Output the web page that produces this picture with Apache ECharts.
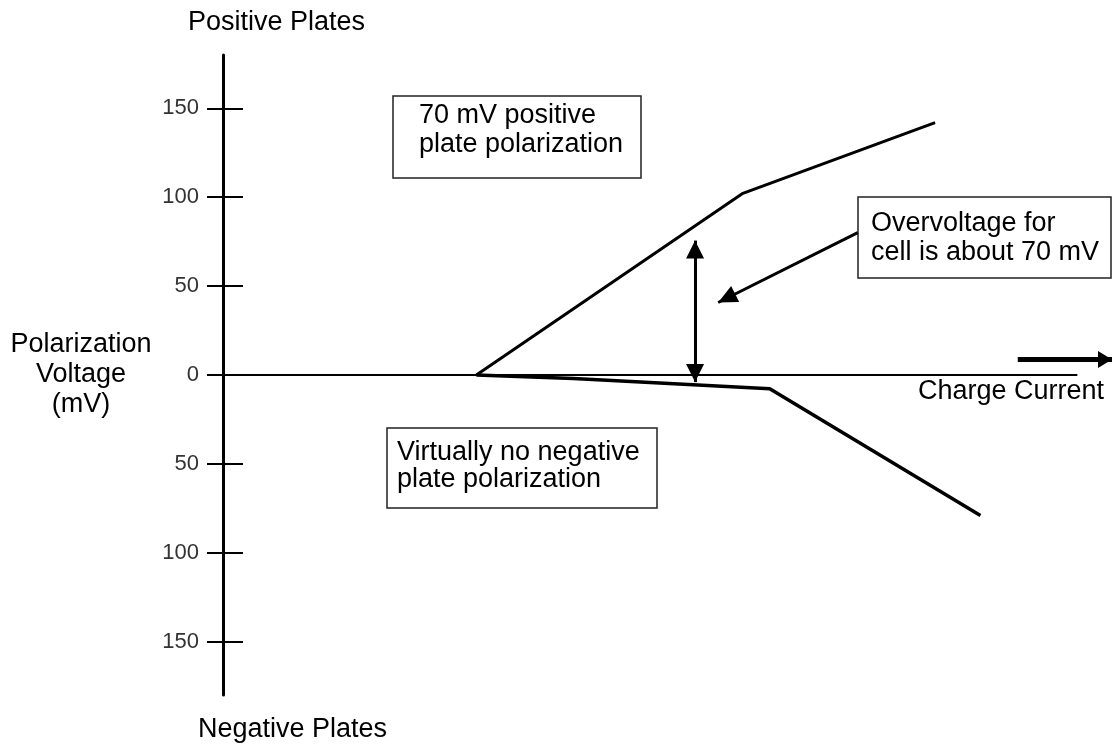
<!DOCTYPE html>
<html>
<head>
<meta charset="utf-8">
<script src="https://cdn.jsdelivr.net/npm/echarts@6/dist/echarts.min.js"></script>
<style>
html,body{margin:0;padding:0;background:#fff;}
#chart{width:1112px;height:746px;}
</style>
</head>
<body>
<div id="chart"></div>
<script>
// ---- data (charge current in arbitrary units 0..100, polarization in mV) ----
const positivePlate = [[28.5, 0], [58.4, 102], [80.1, 142]];
const negativePlate = [[28.5, 0], [39.4, -2], [61.5, -7.8], [85.2, -79]];
const chargeAxis = [[0, 0], [96.1, 0]];
const overvoltageArrow = [[53.1, 75.6], [53.1, -4]];
const pointerArrow = [[71.4, 80.1], [55.7, 40.8]];
const chargeArrow = [[89.4, 8.7], [100, 8.7]];
const yTicks = [-150, -100, -50, 0, 50, 100, 150];
const texts = {
  top: 'Positive Plates',
  bottom: 'Negative Plates',
  yName: 'Polarization\nVoltage\n(mV)',
  xName: 'Charge Current',
  box1: '70 mV positive\nplate polarization',
  box2: 'Virtually no negative\nplate polarization',
  box3: 'Overvoltage for\ncell is about 70 mV'
};

const FONT = '"Liberation Sans", Arial, Helvetica, sans-serif';
const chart = echarts.init(document.getElementById('chart'), null, {renderer: 'canvas'});

function arrowEnd(coord, size) {
  return {coord: coord, symbol: 'triangle', symbolSize: size, symbolOffset: [0, size[1] / 2]};
}
function plainEnd(coord) {
  return {coord: coord, symbol: 'none'};
}

const option = {
  backgroundColor: '#ffffff',
  animation: false,
  grid: {left: 223, right: 0, top: 55, bottom: 51, containLabel: false},
  xAxis: {
    type: 'value', min: 0, max: 100,
    axisLine: {show: false}, axisTick: {show: false}, axisLabel: {show: false}, splitLine: {show: false}
  },
  yAxis: [
    {
      type: 'value', min: -180, max: 180, position: 'left',
      axisLine: {show: true, onZero: false, lineStyle: {color: '#000', width: 3}},
      axisTick: {show: true, inside: false, length: 16, customValues: yTicks, lineStyle: {color: '#000', width: 2}},
      axisLabel: {
        show: true, customValues: yTicks, margin: 24,
        color: '#333', fontSize: 22, fontFamily: FONT,
        formatter: v => String(Math.abs(v))
      },
      splitLine: {show: false}
    },
    {
      type: 'value', min: -180, max: 180, position: 'left', offset: 0,
      axisLine: {show: false},
      axisTick: {show: true, inside: true, length: 20, customValues: yTicks, lineStyle: {color: '#000', width: 2}},
      axisLabel: {show: false},
      splitLine: {show: false}
    }
  ],
  series: [
    {
      type: 'line', name: 'axis', data: chargeAxis, symbol: 'none', silent: true, clip: false,
      lineStyle: {color: '#000', width: 2},
      markLine: {
        silent: true, animation: false,
        label: {show: false},
        emphasis: {disabled: true},
        lineStyle: {color: '#000', type: 'solid', width: 3},
        data: [
          [arrowEnd(overvoltageArrow[0], [18, 18]), arrowEnd(overvoltageArrow[1], [18, 18])],
          [plainEnd(pointerArrow[0]), arrowEnd(pointerArrow[1], [18, 19])],
          [Object.assign(plainEnd(chargeArrow[0]), {lineStyle: {width: 5}}), arrowEnd(chargeArrow[1], [17, 14])]
        ]
      }
    },
    {
      type: 'line', name: 'positive', data: positivePlate, symbol: 'none', silent: true,
      lineStyle: {color: '#000', width: 3}
    },
    {
      type: 'line', name: 'negative', data: negativePlate, symbol: 'none', silent: true,
      lineStyle: {color: '#000', width: 3.5}
    }
  ],
  graphic: [
    {type: 'text', left: 188, top: 9, style: {text: texts.top, font: '27px ' + FONT, fill: '#000'}},
    {type: 'text', left: 198, top: 716, style: {text: texts.bottom, font: '27px ' + FONT, fill: '#000'}},
    {type: 'text', x: 81, y: 375, style: {text: texts.yName, font: '27px ' + FONT, fill: '#000', align: 'center', verticalAlign: 'middle', lineHeight: 30}},
    {type: 'text', x: 918, y: 392, style: {text: texts.xName, font: '27px ' + FONT, fill: '#000', align: 'left', verticalAlign: 'middle'}},
    {type: 'rect', shape: {x: 393, y: 96, width: 248, height: 82}, style: {fill: '#fff', stroke: '#222', lineWidth: 1.5}},
    {type: 'text', x: 419, y: 130, style: {text: texts.box1, font: '27px ' + FONT, fill: '#000', align: 'left', verticalAlign: 'middle', lineHeight: 29}},
    {type: 'rect', shape: {x: 387, y: 428, width: 270, height: 80}, style: {fill: '#fff', stroke: '#222', lineWidth: 1.5}},
    {type: 'text', x: 397, y: 466, style: {text: texts.box2, font: '27px ' + FONT, fill: '#000', align: 'left', verticalAlign: 'middle', lineHeight: 27}},
    {type: 'rect', shape: {x: 858, y: 197, width: 253, height: 81}, style: {fill: '#fff', stroke: '#222', lineWidth: 1.5}},
    {type: 'text', x: 871, y: 238, style: {text: texts.box3, font: '27px ' + FONT, fill: '#000', align: 'left', verticalAlign: 'middle', lineHeight: 29.5}}
  ]
};
chart.setOption(option);
</script>
</body>
</html>
